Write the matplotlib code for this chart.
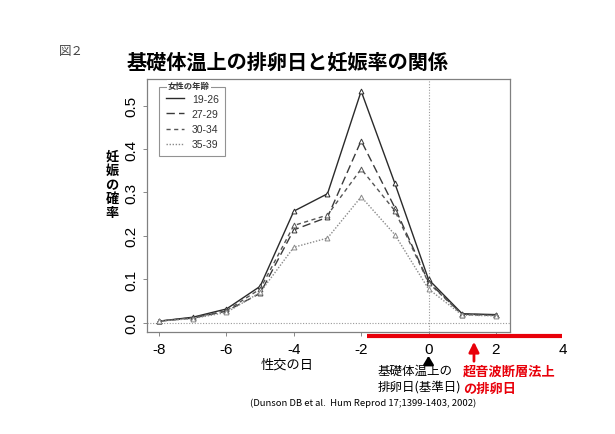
import numpy as np
import matplotlib
matplotlib.use("Agg")
import matplotlib.pyplot as plt
from matplotlib.lines import Line2D

# フォント（日本語 + 欧文フォールバック）
plt.rcParams["font.family"] = ["Noto Sans CJK JP", "DejaVu Sans"]
plt.rcParams["axes.unicode_minus"] = False

# 性交の日（基礎体温上の排卵日 = 0）
DAYS = [-8, -7, -6, -5, -4, -3, -2, -1, 0, 1, 2]

# 年齢層ごとの妊娠の確率
AGE_GROUPS = ["19-26", "27-29", "30-34", "35-39"]
P_19_26 = [0.004, 0.013, 0.032, 0.084, 0.257, 0.297, 0.533, 0.321, 0.100, 0.021, 0.019]
P_27_29 = [0.004, 0.011, 0.027, 0.068, 0.214, 0.243, 0.419, 0.265, 0.094, 0.020, 0.018]
P_30_34 = [0.004, 0.012, 0.028, 0.078, 0.224, 0.248, 0.354, 0.258, 0.092, 0.019, 0.017]
P_35_39 = [0.004, 0.010, 0.024, 0.070, 0.174, 0.195, 0.290, 0.203, 0.078, 0.018, 0.016]

X_TICKS = [-8, -6, -4, -2, 0, 2]
Y_TICKS = [0.0, 0.1, 0.2, 0.3, 0.4, 0.5]

W, H = 615, 435


def fx(px):
    return px / W


def fy(py):
    return 1 - py / H


fig = plt.figure(figsize=(W / 100, H / 100), dpi=100)
fig.patch.set_facecolor("white")

# 軸（R風のボックス）
ax = fig.add_axes([fx(147), fy(333), fx(510) - fx(147), fy(80) - fy(333)])
ax.set_xlim(-8.36, 2.42)
ax.set_ylim(-0.021, 0.561)

styles = [
    dict(color="#2a2a2a", linestyle="-", linewidth=1.0),
    dict(color="#3a3a3a", linestyle=(0, (6, 3)), linewidth=1.0),
    dict(color="#555555", linestyle=(0, (3, 2.5)), linewidth=1.0),
    dict(color="#8a8a8a", linestyle=(0, (1, 1.2)), linewidth=1.0),
]
series = [P_19_26, P_27_29, P_30_34, P_35_39]

handles = []
for label, values, st in zip(AGE_GROUPS, series, styles):
    ax.plot(DAYS, values, marker="^", markersize=3.5, markerfacecolor="white",
            markeredgecolor=st["color"], markeredgewidth=0.7, **st)
    handles.append(Line2D([], [], label=label, **st))

# 基準線（点線）
ax.axhline(0, color="#999999", linestyle=(0, (1, 1.5)), linewidth=0.8, zorder=0)
ax.axvline(0, color="#999999", linestyle=(0, (1, 1.5)), linewidth=0.8, zorder=0)

# 目盛
ax.set_xticks(X_TICKS)
ax.set_xticklabels([str(t) for t in X_TICKS], family="Liberation Sans", fontsize=11)
ax.set_yticks(Y_TICKS)
ax.set_yticklabels([f"{t:.1f}" for t in Y_TICKS], family="Liberation Sans",
                   fontsize=11, rotation=90, va="center")
ax.tick_params(axis="both", direction="out", length=3, color="#888888", width=0.7)
ax.tick_params(axis="x", pad=4)
ax.tick_params(axis="y", pad=3)
for sp in ax.spines.values():
    sp.set_color("#808080")
    sp.set_linewidth(0.9)

# 凡例（タイトルは枠線の上に重ねる）
leg = ax.legend(handles=handles, loc="upper left", bbox_to_anchor=(0.033, 0.968),
                borderaxespad=0, frameon=True, fancybox=False, handlelength=1.8,
                handletextpad=0.7, labelspacing=0.5, borderpad=0.65,
                prop={"family": "Liberation Sans", "size": 7.5})
leg.get_frame().set_edgecolor("#777777")
leg.get_frame().set_linewidth(0.8)
for t in leg.get_texts():
    t.set_color("#333333")
fig.text(fx(168), fy(86), "女性の年齢", fontsize=6, fontweight="bold", va="center",
         ha="left", color="#333333",
         bbox=dict(facecolor="white", edgecolor="none", pad=0.5), zorder=10)

# タイトル類
fig.text(fx(59), fy(51), "図２", fontsize=9, color="#444444", va="center")
fig.text(fx(127), fy(62), "基礎体温上の排卵日と妊娠率の関係", fontsize=14.5,
         fontweight="bold", va="center", ha="left")
fig.text(fx(112), fy(185), "\n".join("妊娠の確率"), fontsize=9.5, fontweight="bold",
         va="center", ha="center", linespacing=1.0)
fig.text(fx(287), fy(365), "性交の日", fontsize=9.5, va="center", ha="center")

# 超音波断層法上の排卵日を示す赤線と矢印
RED = "#e8000a"
ax.plot([-1.83, 3.95], [-0.030, -0.030], color=RED, linewidth=3, clip_on=False,
        solid_capstyle="butt")
ax.text(4.0, -0.06, "4", fontsize=11, family="Liberation Sans", ha="center",
        va="center")
ax.annotate("", xy=(1.35, fy(340)), xycoords=("data", "figure fraction"),
            xytext=(1.35, fy(365)), textcoords=("data", "figure fraction"),
            arrowprops=dict(arrowstyle="-|>,head_width=0.3,head_length=0.6",
                            color=RED, linewidth=2))
ax.annotate("", xy=(0, fy(354)), xycoords=("data", "figure fraction"),
            xytext=(0, fy(367)), textcoords=("data", "figure fraction"),
            arrowprops=dict(arrowstyle="-|>,head_width=0.3,head_length=0.5",
                            color="black", linewidth=1.8))

fig.text(fx(378), fy(379), "基礎体温上の\n排卵日(基準日)", fontsize=9, ha="left",
         va="center", linespacing=1.3)
fig.text(fx(463), fy(380), "超音波断層法上\nの排卵日", fontsize=9.5, ha="left",
         va="center", color=RED, fontweight="bold", linespacing=1.3)

fig.text(fx(250), fy(403), "(Dunson DB et al.  Hum Reprod 17;1399-1403, 2002)",
         fontsize=6.8, ha="left", va="center")

fig.savefig("out.png", dpi=100)
